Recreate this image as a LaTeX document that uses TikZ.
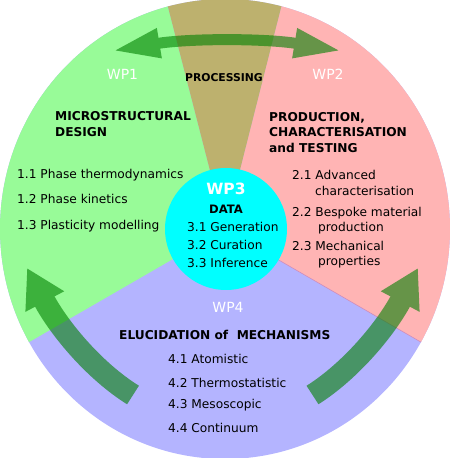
\documentclass[tikz,border=0pt]{standalone}
\usepackage{fontspec}
\setmainfont{DejaVu Sans}
\usetikzlibrary{arrows.meta}
\definecolor{wpgreen}{RGB}{152,251,152}
\definecolor{wppink}{RGB}{255,180,180}
\definecolor{wpblue}{RGB}{180,180,255}
\definecolor{wpbrown}{RGB}{189,177,110}
\definecolor{wpcyan}{RGB}{0,255,255}
\definecolor{wpline}{RGB}{205,140,190}
\definecolor{arrowgreen}{RGB}{0,128,0}
\begin{document}
\begin{tikzpicture}[x=1pt,y=1pt,
  wplabel/.style={inner sep=0pt, anchor=base, text=white, font=\fontsize{14}{16}\selectfont},
  headline/.style={inner sep=0pt, anchor=base west, font=\bfseries\fontsize{12.2}{14}\selectfont},
  itemline/.style={inner sep=0pt, anchor=base west, font=\fontsize{12.2}{14}\selectfont},
  bigarrow/.style={draw=arrowgreen, line width=22pt, -{Triangle[length=38pt,width=41pt]}},
  toparrow/.style={draw=arrowgreen, line width=11pt, {Triangle[length=48pt,width=27pt]}-{Triangle[length=48pt,width=27pt]}}
]
\useasboundingbox (0,0) rectangle (450,458);
% sectors
\begin{scope}
  \clip (225,229) ellipse [x radius=225, y radius=230];
  \fill[wpblue] (0,0) rectangle (450,458);
  \fill[wpgreen] (225,229) -- +(104.4:400) -- +(157:400) -- +(210:400) -- cycle;
  \fill[wppink] (225,229) -- +(-30:400) -- +(23:400) -- +(75.8:400) -- cycle;
  \fill[wpbrown] (225,229) -- +(75.8:400) -- +(90:400) -- +(104.4:400) -- cycle;
  \draw[wpline, line width=0.6pt] (225,229) -- +(-30:400);
\end{scope}
% centre disc
\fill[wpcyan] (226,229) circle [radius=61];
% arrows
\coordinate (tl) at (112,407);
\coordinate (tr) at (342,407);
\coordinate (lt) at (133,63);
\coordinate (lh) at (27,190);
\coordinate (rt) at (312.5,63);
\coordinate (rh) at (418,190);
\begin{scope}[transparency group, opacity=0.6]
  \draw[toparrow] (tl) .. controls (188.7,419.7) and (265.3,419.7) .. (tr);
\end{scope}
\begin{scope}[transparency group, opacity=0.6]
  \draw[bigarrow] (lt) .. controls (94.5,87) and (59.2,129.3) .. (lh);
\end{scope}
\begin{scope}[transparency group, opacity=0.6]
  \draw[bigarrow] (rt) .. controls (350.6,87) and (385.8,129.3) .. (rh);
\end{scope}
% labels
\node[wplabel] (wp1) at (122.5,378) {WP1};
\node[wplabel] (wp2) at (328,378) {WP2};
\node[wplabel, font=\bfseries\fontsize{15.5}{18}\selectfont] (wp3) at (226,263) {WP3};
\node[wplabel] (wp4) at (228,145) {WP4};
\node[inner sep=0pt, anchor=base, font=\bfseries\fontsize{10.8}{13}\selectfont] (proc) at (224,376.3) {PROCESSING};
% WP1
\node[headline] (md1) at (55,337.3) {MICROSTRUCTURAL};
\node[headline] (md2) at (55,321.3) {DESIGN};
\node[itemline] (i11) at (17,279) {1.1 Phase thermodynamics};
\node[itemline] (i12) at (17,254) {1.2 Phase kinetics};
\node[itemline] (i13) at (17,228) {1.3 Plasticity modelling};
% WP2
\node[headline] (pc1) at (269,336.3) {PRODUCTION,};
\node[headline] (pc2) at (269,321) {CHARACTERISATION};
\node[headline] (pc3) at (269,305.7) {and TESTING};
\node[itemline] (i21) at (292,278) {2.1 Advanced};
\node[itemline] (i21b) at (315,262.3) {characterisation};
\node[itemline] (i22) at (292,241.3) {2.2 Bespoke material};
\node[itemline] (i22b) at (318,226) {production};
\node[itemline] (i23) at (292,207.3) {2.3 Mechanical};
\node[itemline] (i23b) at (318,192) {properties};
% WP3
\node[inner sep=0pt, anchor=base, font=\bfseries\fontsize{11.6}{14}\selectfont] (data) at (226,244.7) {DATA};
\node[itemline] (i31) at (187,226.3) {3.1 Generation};
\node[itemline] (i32) at (187,208) {3.2 Curation};
\node[itemline] (i33) at (187,190.3) {3.3 Inference};
% WP4
\node[headline] (el) at (119,118) {ELUCIDATION of\ \ MECHANISMS};
\node[itemline] (i41) at (168,94) {4.1 Atomistic};
\node[itemline] (i42) at (168,70.7) {4.2 Thermostatistic};
\node[itemline] (i43) at (168,49) {4.3 Mesoscopic};
\node[itemline] (i44) at (168,25.7) {4.4 Continuum};
\end{tikzpicture}
\end{document}
